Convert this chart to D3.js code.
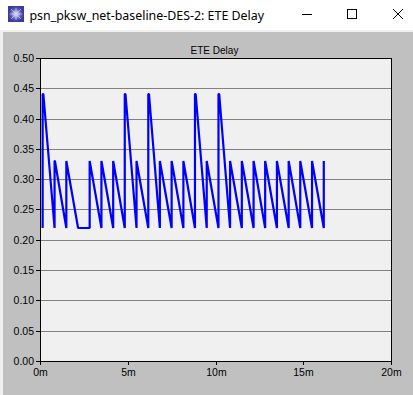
<!DOCTYPE html>
<html>
<head>
<meta charset="utf-8">
<script src="https://cdn.jsdelivr.net/npm/d3@7"></script>
<style>
  html, body { margin: 0; padding: 0; background: #fff; overflow: hidden; }
  svg { display: block; }
  text { font-family: "Liberation Sans", Arial, sans-serif; fill: #000; }
</style>
</head>
<body>
<div id="chart"></div>
<script>
const windowTitle = "psn_pksw_net-baseline-DES-2: ETE Delay";
const chartTitle = "ETE Delay";
const yTicks = [0, 0.05, 0.10, 0.15, 0.20, 0.25, 0.30, 0.35, 0.40, 0.45, 0.50];
const xTicks = [0, 5, 10, 15, 20];

// minutes
const times = [
  0.15, 0.15, 0.19, 0.83, 0.83, 0.85, 1.50, 1.50, 2.17, 2.83, 2.83, 3.50, 3.50,
  4.17, 4.17, 4.83, 4.83, 4.87, 5.50, 5.50, 6.17, 6.17, 6.21, 6.83, 6.83, 7.50,
  7.50, 8.17, 8.17, 8.83, 8.83, 8.87, 9.50, 9.50, 10.17, 10.17, 10.21, 10.83,
  10.83, 11.50, 11.50, 12.17, 12.17, 12.83, 12.83, 13.50, 13.50, 14.17, 14.17,
  14.83, 14.83, 15.50, 15.50, 16.17, 16.17
];
// seconds
const delays = [
  0.22, 0.44, 0.44, 0.22, 0.33, 0.33, 0.22, 0.33, 0.22, 0.22, 0.33, 0.22, 0.33,
  0.22, 0.33, 0.22, 0.44, 0.44, 0.22, 0.33, 0.22, 0.44, 0.44, 0.22, 0.33, 0.22,
  0.33, 0.22, 0.33, 0.22, 0.44, 0.44, 0.22, 0.33, 0.22, 0.44, 0.44, 0.22,
  0.33, 0.22, 0.33, 0.22, 0.33, 0.22, 0.33, 0.22, 0.33, 0.22, 0.33,
  0.22, 0.33, 0.22, 0.33, 0.22, 0.33
];

const width = 413;
const height = 395;
const margin = { top: 58, right: 22, bottom: 34.1, left: 40 };

const svg = d3.select("#chart")
  .append("svg")
  .attr("width", width)
  .attr("height", height);

// window frame
svg.append("rect").attr("x", 0).attr("y", 30).attr("width", width).attr("height", height - 30).attr("fill", "#f0f0f0");
svg.append("rect").attr("x", 3).attr("y", 32).attr("width", width - 3).attr("height", height - 32).attr("fill", "#c0c0c0");

// title bar
const glow = svg.append("defs").append("radialGradient").attr("id", "iconGlow");
glow.append("stop").attr("offset", "0%").attr("stop-color", "#ffffff");
glow.append("stop").attr("offset", "22%").attr("stop-color", "#c8c8f0");
glow.append("stop").attr("offset", "65%").attr("stop-color", "#5a59b8");
glow.append("stop").attr("offset", "100%").attr("stop-color", "#3a3a9a");

const icon = svg.append("g").attr("transform", "translate(8,6)");
icon.append("rect").attr("width", 16).attr("height", 16).attr("fill", "url(#iconGlow)");
[[8, 2, 8, 14], [2, 8, 14, 8], [3, 3, 13, 13], [3, 13, 13, 3]].forEach(s => {
  icon.append("line")
    .attr("x1", s[0]).attr("y1", s[1]).attr("x2", s[2]).attr("y2", s[3])
    .attr("stroke", "#c8c8f4").attr("stroke-width", 0.7);
});

svg.append("text")
  .attr("x", 29.5)
  .attr("y", 19.5)
  .style("font-family", "'Noto Sans', 'Open Sans', sans-serif")
  .style("font-size", "12.4px")
  .text(windowTitle);

const buttons = svg.append("g").attr("fill", "none").attr("stroke", "#000").attr("stroke-width", 1);
buttons.append("line").attr("x1", 302).attr("y1", 14.5).attr("x2", 312).attr("y2", 14.5);
buttons.append("rect").attr("x", 347.5).attr("y", 9.5).attr("width", 9).attr("height", 9);
buttons.append("line").attr("x1", 393).attr("y1", 9).attr("x2", 403).attr("y2", 19);
buttons.append("line").attr("x1", 403).attr("y1", 9).attr("x2", 393).attr("y2", 19);

// plot
const x = d3.scaleLinear()
  .domain([0, 20])
  .range([margin.left, width - margin.right]);

// ticks and frame sit on whole pixels
const xTick = x.copy().rangeRound([margin.left, width - margin.right]);

const y = d3.scaleLinear()
  .domain([0, 0.5])
  .rangeRound([height - margin.bottom, margin.top]);

svg.append("rect")
  .attr("x", xTick(0))
  .attr("y", y(0.5))
  .attr("width", xTick(20) - xTick(0))
  .attr("height", y(0) - y(0.5))
  .attr("fill", "#f0f0f0");

svg.append("g")
  .selectAll("line")
  .data(yTicks.slice(1, -1))
  .enter()
  .append("line")
  .attr("x1", xTick(0))
  .attr("x2", xTick(20))
  .attr("y1", d => y(d) + 0.5)
  .attr("y2", d => y(d) + 0.5)
  .attr("stroke", "#808080")
  .attr("stroke-width", 1);

const line = d3.line()
  .x((d, i) => x(times[i]))
  .y(d => y(d));

svg.append("path")
  .attr("d", line(delays))
  .attr("fill", "none")
  .attr("stroke", "#0000ff")
  .attr("stroke-width", 2.2)
  .attr("stroke-linejoin", "miter")
  .attr("stroke-miterlimit", 1);

svg.append("rect")
  .attr("x", xTick(0) + 0.5)
  .attr("y", y(0.5) + 0.5)
  .attr("width", xTick(20) - xTick(0))
  .attr("height", y(0) - y(0.5))
  .attr("fill", "none")
  .attr("stroke", "#000")
  .attr("stroke-width", 1);

const xAxis = svg.append("g")
  .attr("transform", `translate(0,${y(0)})`)
  .call(d3.axisBottom(xTick).tickValues(xTicks).tickFormat(d => d + "m").tickSize(4).tickPadding(4));

const yAxis = svg.append("g")
  .attr("transform", `translate(${xTick(0)},0)`)
  .call(d3.axisLeft(y).tickValues(yTicks).tickFormat(d => d.toFixed(2)).tickSize(4).tickPadding(2));

[xAxis, yAxis].forEach(a => {
  a.select(".domain").remove();
  a.selectAll("line").attr("stroke", "#000");
  a.selectAll("text").style("font-size", "10.5px").style("font-family", "'Liberation Sans', Arial, sans-serif");
});

svg.append("text")
  .attr("x", 214.5)
  .attr("y", 54)
  .attr("text-anchor", "middle")
  .style("font-size", "10px")
  .text(chartTitle);
</script>
</body>
</html>
